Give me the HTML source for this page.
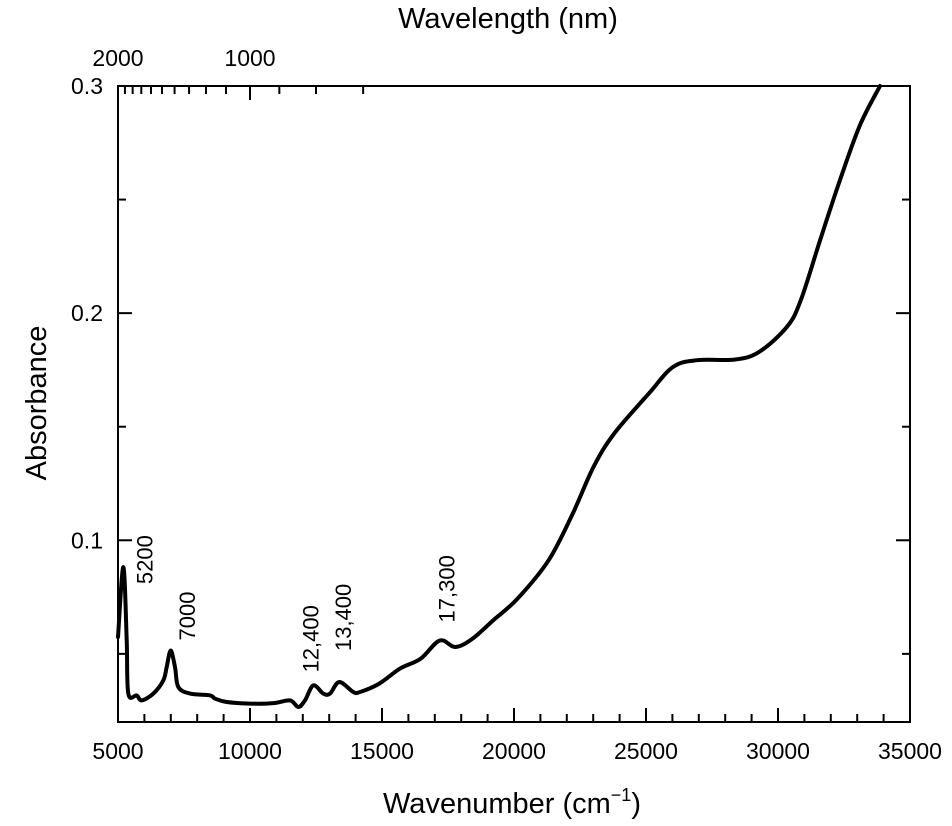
<!DOCTYPE html>
<html><head><meta charset="utf-8"><style>
html,body{margin:0;padding:0;background:#fff;}
svg{display:block;font-family:"Liberation Sans",sans-serif;}
</style></head><body>
<svg id="chart" width="952" height="826" viewBox="0 0 952 826">
<g id="axes"></g>
<g id="series"></g>
<g id="labels"></g>
</svg>
<script>
const wavenumbers = [5000,5201,5330,5390,5708,5897,6337,6716,6845,6995,7159,7284,7727,8485,8674,9117,10000,10883,11515,11830,12083,12398,12777,13030,13383,13913,14167,14898,15682,16470,17189,17777,18432,19216,20133,21311,22227,23011,23795,25106,26023,26939,28379,29292,30341,30864,31591,32348,33106,33864];
const absorbance = [0.0574,0.0882,0.056,0.0325,0.0317,0.0295,0.0325,0.0383,0.0442,0.0515,0.0442,0.0354,0.0325,0.0317,0.0303,0.0288,0.0281,0.0283,0.0295,0.0266,0.0295,0.0361,0.0325,0.0325,0.0376,0.0332,0.0332,0.0369,0.0435,0.0479,0.0559,0.0530,0.0567,0.0648,0.0743,0.0912,0.1118,0.1323,0.1470,0.1646,0.1763,0.1793,0.1796,0.1830,0.1940,0.2057,0.232,0.2586,0.2828,0.3];
const xMajorTicks = [5000,10000,15000,20000,25000,30000,35000];
const yMajorTicks = [0.1,0.2,0.3];
const yMinorTicks = [0.05,0.15,0.25];
const topMajorNm = [2000,1000];
const topMinorNm = [1900,1800,1700,1600,1500,1400,1300,1200,1100,900,800,700];
const peakLabels = ["5200","7000","12,400","13,400","17,300"];
const peakPositions = [5200,7000,12400,13400,17300];
const peakHeights = [0.0882,0.0515,0.0361,0.0376,0.0559];

const L=118,R=910,T=86,B=722,X0=5000,X1=35000,Y0=0.02,Y1=0.3;
const sx=v=>L+(v-X0)/(X1-X0)*(R-L);
const sy=a=>B-(a-Y0)/(Y1-Y0)*(B-T);
const NS="http://www.w3.org/2000/svg";
function mk(tag,attrs,parent,txt){const e=document.createElementNS(NS,tag);for(const k in attrs)e.setAttribute(k,attrs[k]);if(txt!==undefined)e.textContent=txt;parent.appendChild(e);return e;}
const axes=document.getElementById('axes'),series=document.getElementById('series'),labels=document.getElementById('labels');

let f=mk('rect',{x:L,y:T,width:R-L,height:B-T,fill:'none',stroke:'#000','stroke-width':2},axes);



for(let v=6000;v<35000;v+=1000){
  const maj=xMajorTicks.includes(v);
  const t=mk('line',{x1:sx(v),x2:sx(v),y1:B,y2:B-(maj?14:8),stroke:'#000','stroke-width':2},axes);
  
  
}
xMajorTicks.forEach(v=>{
  const t=mk('text',{x:sx(v),y:759,'text-anchor':'middle','font-size':23},labels,String(v));
  
  
});
yMajorTicks.forEach(a=>{
  [L,R].forEach(x=>{const t=mk('line',{x1:x,x2:x===L?x+14:x-14,y1:sy(a),y2:sy(a),stroke:'#000','stroke-width':2},axes);
  
  });
  const l=mk('text',{x:103,y:sy(a)+8,'text-anchor':'end','font-size':23},labels,a.toFixed(1));
  
  
});
yMinorTicks.forEach(a=>{
  [L,R].forEach(x=>{const t=mk('line',{x1:x,x2:x===L?x+8:x-8,y1:sy(a),y2:sy(a),stroke:'#000','stroke-width':2},axes);
  
  });
});
topMinorNm.forEach(nm=>{
  const x=sx(1e7/nm);
  const t=mk('line',{x1:x,x2:x,y1:T,y2:T+8,stroke:'#000','stroke-width':2},axes);
  
  
});
topMajorNm.forEach(nm=>{
  const x=sx(1e7/nm);
  const t=mk('line',{x1:x,x2:x,y1:T,y2:T+14,stroke:'#000','stroke-width':2},axes);
  
  
  const l=mk('text',{x:x,y:66,'text-anchor':'middle','font-size':23},labels,String(nm));
  
  
});

// smooth Catmull-Rom path through data points
const pts=wavenumbers.map((v,i)=>[sx(v),sy(absorbance[i])]);
let d='M'+pts[0][0].toFixed(1)+','+pts[0][1].toFixed(1);
for(let i=0;i<pts.length-1;i++){
  const p0=pts[Math.max(i-1,0)],p1=pts[i],p2=pts[i+1],p3=pts[Math.min(i+2,pts.length-1)];
  const c1=[p1[0]+(p2[0]-p0[0])/6,p1[1]+(p2[1]-p0[1])/6];
  const c2=[p2[0]-(p3[0]-p1[0])/6,p2[1]-(p3[1]-p1[1])/6];
  d+='C'+c1.map(n=>n.toFixed(1)).join(',')+' '+c2.map(n=>n.toFixed(1)).join(',')+' '+p2.map(n=>n.toFixed(1)).join(',');
}
const p=mk('path',{d:d,fill:'none',stroke:'#000','stroke-width':4,'stroke-linejoin':'round','stroke-linecap':'round'},series);



const offs=[[29,17],[24,-10],[5,-13],[11,-31],[12,-18]];
peakLabels.forEach((s,i)=>{
  const x=sx(peakPositions[i])+offs[i][0], y=sy(peakHeights[i])+offs[i][1];
  const t=mk('text',{x:x,y:y,'font-size':22,transform:`rotate(-90 ${x} ${y})`},labels,s);
  
  
});

let t=mk('text',{x:512,y:813,'text-anchor':'middle','font-size':29},labels);


t.innerHTML='Wavenumber (cm<tspan font-size="18" dy="-12">−1</tspan><tspan dy="12">)</tspan>';
t=mk('text',{x:508,y:28,'text-anchor':'middle','font-size':29},labels,'Wavelength (nm)');


t=mk('text',{x:46,y:403,'text-anchor':'middle','font-size':29,transform:'rotate(-90 46 403)'},labels,'Absorbance');


</script>
</body></html>
